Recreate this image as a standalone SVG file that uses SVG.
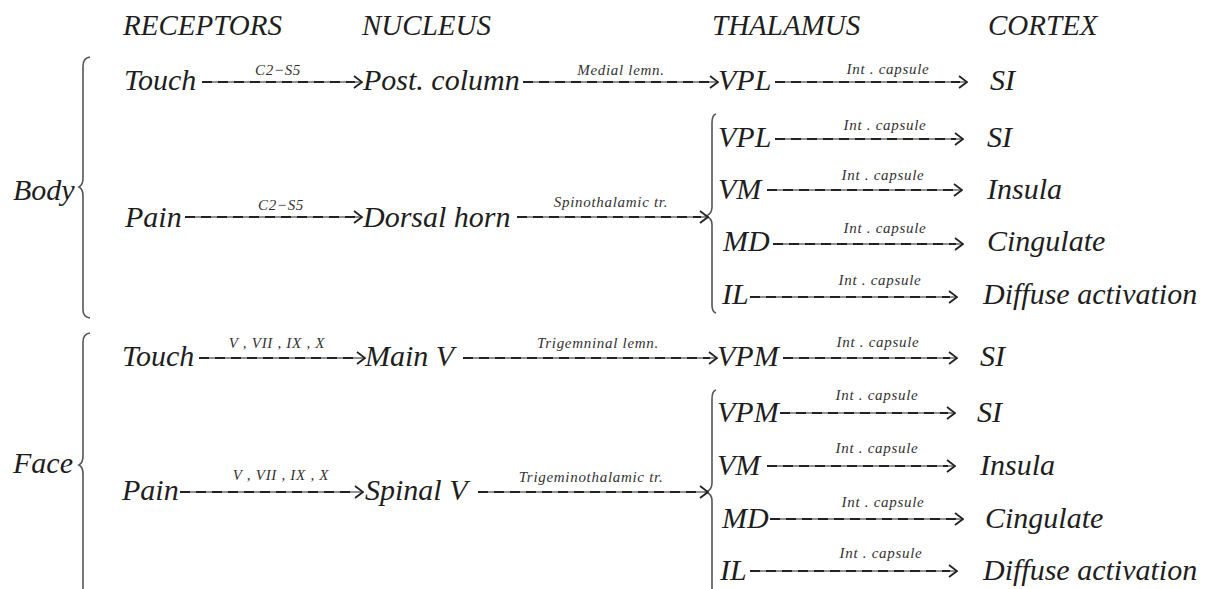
<svg xmlns="http://www.w3.org/2000/svg" width="1206" height="589" viewBox="0 0 1206 589">
<defs>
<style>
text{font-family:"Liberation Serif","Times New Roman",serif;font-style:italic;fill:#1e1e1e}
.h{font-size:29px}
.t{font-size:30px}
.l{font-size:15px;letter-spacing:0.7px;text-anchor:middle;fill:#333}
.b{fill:none;stroke:#6e6e6e;stroke-width:1.6}
.d{fill:none;stroke:#222;stroke-width:2;stroke-dasharray:10 6}
.br{fill:none;stroke:#555;stroke-width:1.6}
</style>
<marker id="arr" viewBox="0 0 10 14" refX="9" refY="7" markerWidth="10" markerHeight="14" markerUnits="userSpaceOnUse" orient="auto">
<path d="M1,1 L9,7 L1,13" fill="none" stroke="#222" stroke-width="1.8"/>
</marker>
</defs>
<rect width="1206" height="589" fill="#fff"/>

<g id="headers">
<text class="h" x="123" y="35">RECEPTORS</text>
<text class="h" x="362" y="35">NUCLEUS</text>
<text class="h" x="712" y="35">THALAMUS</text>
<text class="h" x="988" y="35">CORTEX</text>
</g>

<g id="braces">
<path class="br" d="M90,57 Q83,58 83,66 V178 Q83,185 79,187 Q83,189 83,196 V310 Q83,317 90,318"/>
<path class="br" d="M90,333 Q83,334 83,342 V456 Q83,463 79,465 Q83,467 83,474 V600"/>
<path class="br" d="M716,114 Q712,115 712,123 V207 Q712,214 706,216 Q712,218 712,225 V305 Q712,312 716,313"/>
<path class="br" d="M716,390 Q712,391 712,399 V483 Q712,490 706,492 Q712,494 712,501 V600"/>
</g>

<g id="group-body"><text class="t" x="13" y="200">Body</text></g>
<g id="group-face"><text class="t" x="13" y="473">Face</text></g>

<g id="connectors">
<path class="b" d="M202,82 H362" marker-end="url(#arr)"/><path class="d" d="M202,82 H355"/>
<path class="b" d="M523,82 H718" marker-end="url(#arr)"/><path class="d" d="M523,82 H711"/>
<path class="b" d="M775,82 H967" marker-end="url(#arr)"/><path class="d" d="M775,82 H960"/>
<path class="b" d="M775,139 H963" marker-end="url(#arr)"/><path class="d" d="M775,139 H956"/>
<path class="b" d="M767,190 H962" marker-end="url(#arr)"/><path class="d" d="M767,190 H955"/>
<path class="b" d="M773,244 H963" marker-end="url(#arr)"/><path class="d" d="M773,244 H956"/>
<path class="b" d="M750,297 H957" marker-end="url(#arr)"/><path class="d" d="M750,297 H950"/>
<path class="b" d="M185,217 H362" marker-end="url(#arr)"/><path class="d" d="M185,217 H355"/>
<path class="b" d="M517,217 H708" marker-end="url(#arr)"/><path class="d" d="M517,217 H701"/>

<path class="b" d="M199,358 H365" marker-end="url(#arr)"/><path class="d" d="M199,358 H358"/>
<path class="b" d="M463,358 H717" marker-end="url(#arr)"/><path class="d" d="M463,358 H710"/>
<path class="b" d="M783,358 H957" marker-end="url(#arr)"/><path class="d" d="M783,358 H950"/>
<path class="b" d="M780,413 H955" marker-end="url(#arr)"/><path class="d" d="M780,413 H948"/>
<path class="b" d="M767,466 H955" marker-end="url(#arr)"/><path class="d" d="M767,466 H948"/>
<path class="b" d="M770,519 H963" marker-end="url(#arr)"/><path class="d" d="M770,519 H956"/>
<path class="b" d="M750,571 H957" marker-end="url(#arr)"/><path class="d" d="M750,571 H950"/>
<path class="b" d="M180,492 H363" marker-end="url(#arr)"/><path class="d" d="M180,492 H356"/>
<path class="b" d="M478,492 H708" marker-end="url(#arr)"/><path class="d" d="M478,492 H701"/>

<text class="l" x="278" y="75">C2−S5</text>
<text class="l" x="621" y="75">Medial lemn.</text>
<text class="l" x="888" y="74">Int . capsule</text>
<text class="l" x="885" y="130">Int . capsule</text>
<text class="l" x="883" y="180">Int . capsule</text>
<text class="l" x="885" y="233">Int . capsule</text>
<text class="l" x="880" y="285">Int . capsule</text>
<text class="l" x="281" y="210">C2−S5</text>
<text class="l" x="611" y="207">Spinothalamic tr.</text>

<text class="l" x="277" y="348">V , VII , IX , X</text>
<text class="l" x="598" y="348">Trigemninal lemn.</text>
<text class="l" x="878" y="347">Int . capsule</text>
<text class="l" x="877" y="400">Int . capsule</text>
<text class="l" x="877" y="453">Int . capsule</text>
<text class="l" x="883" y="507">Int . capsule</text>
<text class="l" x="881" y="558">Int . capsule</text>
<text class="l" x="281" y="480">V , VII , IX , X</text>
<text class="l" x="591" y="482">Trigeminothalamic tr.</text>
</g>

<g id="body-touch"><text class="t" x="124" y="90">Touch</text></g>
<g id="body-postcolumn"><text class="t" x="363" y="90">Post. column</text></g>
<g id="body-vpl1"><text class="t" x="718" y="90">VPL</text></g>
<g id="body-si1"><text class="t" x="990" y="90">SI</text></g>
<g id="body-pain"><text class="t" x="125" y="227">Pain</text></g>
<g id="body-dorsalhorn"><text class="t" x="363" y="227">Dorsal horn</text></g>
<g id="body-vpl2"><text class="t" x="718" y="147">VPL</text></g>
<g id="body-si2"><text class="t" x="987" y="147">SI</text></g>
<g id="body-vm"><text class="t" x="718" y="199">VM</text></g>
<g id="body-insula"><text class="t" x="987" y="199">Insula</text></g>
<g id="body-md"><text class="t" x="723" y="251">MD</text></g>
<g id="body-cingulate"><text class="t" x="987" y="251">Cingulate</text></g>
<g id="body-il"><text class="t" x="722" y="304">IL</text></g>
<g id="body-diffuse"><text class="t" x="983" y="304">Diffuse activation</text></g>

<g id="face-touch"><text class="t" x="122" y="366">Touch</text></g>
<g id="face-mainv"><text class="t" x="365" y="366">Main V</text></g>
<g id="face-vpm1"><text class="t" x="717" y="366">VPM</text></g>
<g id="face-si1"><text class="t" x="980" y="366">SI</text></g>
<g id="face-pain"><text class="t" x="122" y="500">Pain</text></g>
<g id="face-spinalv"><text class="t" x="365" y="500">Spinal V</text></g>
<g id="face-vpm2"><text class="t" x="717" y="422">VPM</text></g>
<g id="face-si2"><text class="t" x="977" y="422">SI</text></g>
<g id="face-vm"><text class="t" x="717" y="475">VM</text></g>
<g id="face-insula"><text class="t" x="980" y="475">Insula</text></g>
<g id="face-md"><text class="t" x="722" y="528">MD</text></g>
<g id="face-cingulate"><text class="t" x="985" y="528">Cingulate</text></g>
<g id="face-il"><text class="t" x="720" y="580">IL</text></g>
<g id="face-diffuse"><text class="t" x="983" y="580">Diffuse activation</text></g>
</svg>
